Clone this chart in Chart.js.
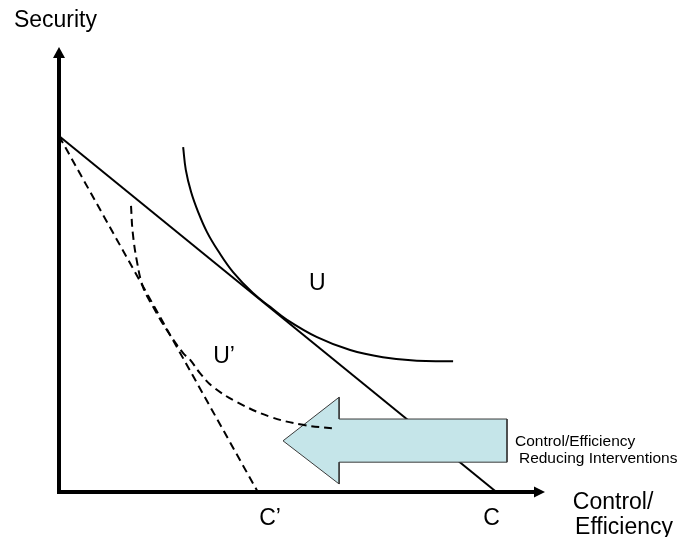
<!DOCTYPE html>
<html>
<head>
<meta charset="utf-8">
<script src="https://cdn.jsdelivr.net/npm/chart.js@4/dist/chart.umd.min.js"></script>
<style>
  html, body { margin: 0; padding: 0; background: #ffffff; }
  #wrap { width: 683px; height: 537px; }
</style>
</head>
<body>
<div id="wrap"><canvas id="c" width="683" height="537"></canvas></div>
<script>
// Axis ranges (Control/Efficiency horizontally, Security vertically)
const xRange = [0, 11];
const yRange = [0, 10];

// Original budget / possibility line (Security intercept to C)
const budgetX = [0, 9.9];
const budgetY = [8.0, 0];

// Reduced possibility line (Security intercept to C')
const reducedX = [0, 4.5];
const reducedY = [8.0, 0];

// Indifference curve U
const uX = [2.81, 2.87, 2.99, 3.15, 3.35, 3.60, 3.94, 4.39, 4.78, 5.16, 5.84, 6.59, 7.33, 8.10, 8.92];
const uY = [7.75, 7.24, 6.74, 6.29, 5.84, 5.42, 4.94, 4.47, 4.16, 3.87, 3.48, 3.19, 3.03, 2.95, 2.94];

// Indifference curve U'
const u2X = [1.63, 1.67, 1.77, 1.90, 2.13, 2.44, 2.81, 2.97, 3.19, 3.49, 4.03, 4.78, 5.52, 6.29];
const u2Y = [6.43, 5.82, 5.15, 4.61, 4.16, 3.64, 3.12, 2.97, 2.67, 2.36, 2.02, 1.69, 1.51, 1.42];

// Big left-pointing arrow outline
const arrowX = [5.07, 6.34, 6.34, 10.14, 10.14, 6.34, 6.34, 5.07];
const arrowY = [1.15, 2.13, 1.64, 1.64, 0.67, 0.67, 0.18, 1.15];

// Text labels
const labelText = ['Security', 'U', 'U\u2019', 'C\u2019', 'C', 'Control/', 'Efficiency', 'Control/Efficiency', 'Reducing Interventions'];
const labelX = [-0.08, 5.66, 3.49, 4.53, 9.60, 11.63, 11.68, 10.32, 10.41];
const labelY = [10.45, 4.54, 2.90, -0.74, -0.74, -0.38, -0.94, 1.03, 0.65];

const pts = (xs, ys) => xs.map((x, i) => ({ x: x, y: ys[i] }));

const FONT = '"Liberation Sans", Arial, Helvetica, sans-serif';
const labelStyle = [
  { size: 23, align: 'center' },
  { size: 23, align: 'left' },
  { size: 23, align: 'left' },
  { size: 23, align: 'left' },
  { size: 23, align: 'left' },
  { size: 23, align: 'left' },
  { size: 23, align: 'left' },
  { size: 15.5, align: 'left' },
  { size: 15.5, align: 'left' }
];

const decorPlugin = {
  id: 'decor',
  afterDatasetsDraw(chart) {
    const ctx = chart.ctx;
    const xs = chart.scales.x, ys = chart.scales.y;
    const x0 = xs.getPixelForValue(xRange[0]);
    const y0 = ys.getPixelForValue(yRange[0]);
    const xTip = xs.getPixelForValue(xRange[1]);
    const yTip = ys.getPixelForValue(yRange[1]);
    ctx.save();
    ctx.fillStyle = '#000';
    // vertical arrowhead
    ctx.beginPath();
    ctx.moveTo(x0, yTip);
    ctx.lineTo(x0 - 6, yTip + 11);
    ctx.lineTo(x0 + 6, yTip + 11);
    ctx.closePath();
    ctx.fill();
    // horizontal arrowhead
    ctx.beginPath();
    ctx.moveTo(xTip, y0);
    ctx.lineTo(xTip - 11, y0 - 5.5);
    ctx.lineTo(xTip - 11, y0 + 5.5);
    ctx.closePath();
    ctx.fill();
    // labels
    ctx.fillStyle = '#000';
    ctx.textBaseline = 'alphabetic';
    labelText.forEach((t, i) => {
      ctx.font = labelStyle[i].size + 'px ' + FONT;
      ctx.textAlign = labelStyle[i].align;
      ctx.fillText(t, xs.getPixelForValue(labelX[i]), ys.getPixelForValue(labelY[i]));
    });
    ctx.restore();
  }
};

new Chart(document.getElementById('c'), {
  type: 'line',
  data: {
    datasets: [
      { // axes
        data: [{ x: xRange[0], y: yRange[1] - 0.25 }, { x: xRange[0], y: yRange[0] }, { x: xRange[1] - 0.25, y: yRange[0] }],
        borderColor: '#000', borderWidth: 4, borderCapStyle: 'square', borderJoinStyle: 'miter',
        pointRadius: 0, tension: 0, fill: false, clip: false, order: 0
      },
      { // U'
        data: pts(u2X, u2Y),
        borderColor: '#000', borderWidth: 2, borderDash: [8, 5],
        pointRadius: 0, tension: 0.4, fill: false, clip: false, order: 1
      },
      { // arrow
        data: pts(arrowX, arrowY),
        borderColor: '#3a3a3a', borderWidth: 1, backgroundColor: '#c5e5e9',
        pointRadius: 0, tension: 0, fill: 'shape', clip: false, order: 2
      },
      { // budget line
        data: pts(budgetX, budgetY),
        borderColor: '#000', borderWidth: 2,
        pointRadius: 0, tension: 0, fill: false, clip: false, order: 3
      },
      { // reduced line
        data: pts(reducedX, reducedY),
        borderColor: '#000', borderWidth: 2, borderDash: [8, 5],
        pointRadius: 0, tension: 0, fill: false, clip: false, order: 3
      },
      { // U
        data: pts(uX, uY),
        borderColor: '#000', borderWidth: 2,
        pointRadius: 0, tension: 0.4, fill: false, clip: false, order: 3
      }
    ]
  },
  options: {
    responsive: false,
    animation: false,
    devicePixelRatio: 1,
    layout: { padding: { left: 59, right: 138, top: 47, bottom: 45 } },
    plugins: { legend: { display: false }, tooltip: { enabled: false } },
    events: [],
    scales: {
      x: { type: 'linear', min: xRange[0], max: xRange[1], display: false },
      y: { type: 'linear', min: yRange[0], max: yRange[1], display: false }
    }
  },
  plugins: [decorPlugin]
});
</script>
</body>
</html>
